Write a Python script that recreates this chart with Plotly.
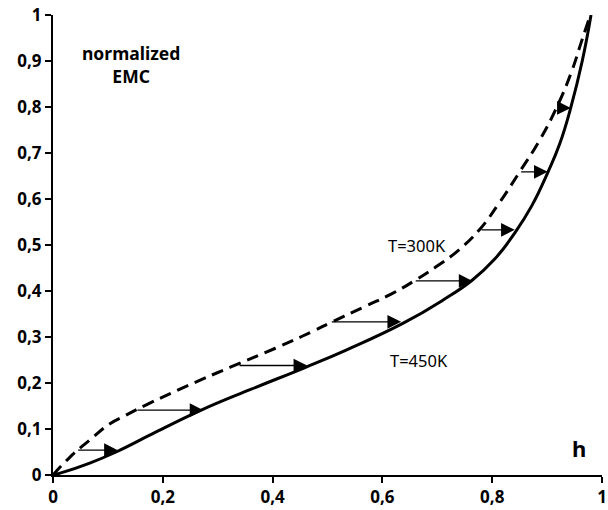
import plotly.graph_objects as go

# Equilibrium moisture content curves (normalized) vs. relative humidity h
h_300 = [0, 0.031, 0.067, 0.103, 0.133, 0.169, 0.247, 0.324, 0.404, 0.476, 0.505,
         0.571, 0.614, 0.658, 0.697, 0.739, 0.778, 0.812, 0.85, 0.885, 0.917,
         0.944, 0.962, 0.976]
emc_300 = [0, 0.039, 0.076, 0.111, 0.13, 0.152, 0.195, 0.235, 0.275, 0.314, 0.331,
           0.368, 0.392, 0.422, 0.452, 0.489, 0.535, 0.59, 0.659, 0.725, 0.798,
           0.875, 0.94, 0.99]

h_450 = [0, 0.013, 0.067, 0.115, 0.187, 0.27, 0.36, 0.458, 0.535, 0.638, 0.71,
         0.764, 0.805, 0.841, 0.872, 0.901, 0.923, 0.943, 0.964, 0.98]
emc_450 = [0, 0.004, 0.026, 0.05, 0.093, 0.141, 0.186, 0.233, 0.272, 0.33, 0.38,
           0.424, 0.47, 0.526, 0.585, 0.657, 0.72, 0.798, 0.9, 1.0]

# Horizontal shift arrows from the 300K curve to the 450K curve
arrow_y = [0.054, 0.141, 0.238, 0.333, 0.422, 0.533, 0.659, 0.798]
arrow_from = [0.043, 0.151, 0.337, 0.505, 0.658, 0.778, 0.85, 0.917]
arrow_to = [0.118, 0.274, 0.463, 0.634, 0.764, 0.841, 0.901, 0.943]

fig = go.Figure()
fig.add_trace(go.Scatter(x=h_300, y=emc_300, mode="lines", name="T=300K",
                         line=dict(color="black", width=3, dash="12px,7px",
                                   shape="spline", smoothing=1.3),
                         cliponaxis=False))
fig.add_trace(go.Scatter(x=h_450, y=emc_450, mode="lines", name="T=450K",
                         line=dict(color="black", width=3,
                                   shape="spline", smoothing=1.3),
                         cliponaxis=False))

for y, x0, x1 in zip(arrow_y, arrow_from, arrow_to):
    fig.add_annotation(x=x1, y=y, ax=x0, ay=y, xref="x", yref="y",
                       axref="x", ayref="y", text="", showarrow=True,
                       arrowhead=2, arrowsize=2.1, arrowwidth=1.3,
                       arrowcolor="black", standoff=0, startstandoff=0)

label_font = dict(family="Noto Sans", size=16.5, color="black")
fig.add_annotation(x=0.663, y=0.498, xref="x", yref="y", text="T=300K",
                   showarrow=False, font=label_font)
fig.add_annotation(x=0.667, y=0.25, xref="x", yref="y", text="T=450K",
                   showarrow=False, font=label_font)
fig.add_annotation(x=0.142, y=0.892, xref="x", yref="y",
                   text="normalized<br>EMC", showarrow=False,
                   font=dict(family="Noto Sans", size=17.5, color="black",
                             weight="bold"))
fig.add_annotation(x=0.958, y=0.058, xref="x", yref="y", text="h",
                   showarrow=False,
                   font=dict(family="Noto Sans", size=22, color="black",
                             weight="bold"))

axis_common = dict(showgrid=False, zeroline=False, showline=True,
                   linecolor="black", linewidth=2, ticks="outside",
                   ticklen=6, tickwidth=2, tickcolor="black",
                   tickfont=dict(family="Noto Sans", size=17, color="black",
                                 weight="bold"))

fig.update_layout(
    width=608, height=510,
    margin=dict(l=53, r=1, t=15, b=35),
    paper_bgcolor="white", plot_bgcolor="white",
    showlegend=False,
    separators=", ",
    xaxis=dict(range=[0, 1], dtick=0.2, ticklabeloverflow="allow",
               **axis_common),
    yaxis=dict(range=[0, 1], dtick=0.1, **axis_common),
)

fig.write_html("out.html")
